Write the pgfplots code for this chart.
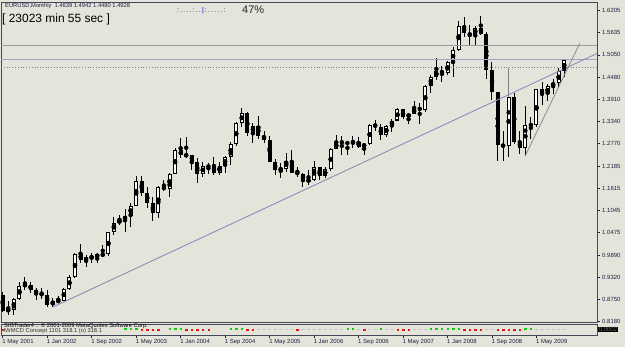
\documentclass[border=0pt]{standalone}
\usepackage{pgfplots}
\pgfplotsset{compat=1.18}
\usepackage{pgfplotstable}
\usepackage{fontspec}
\setmainfont{Liberation Sans}
\definecolor{bgc}{RGB}{228,228,218}
\definecolor{bordc}{RGB}{70,70,90}
\definecolor{lblc}{RGB}{30,30,70}
\definecolor{trendc}{RGB}{140,140,185}
\definecolor{hlinec}{RGB}{155,155,160}
\definecolor{bidc}{RGB}{160,160,200}
\definecolor{boxg}{RGB}{140,140,140}
\definecolor{indred}{RGB}{230,20,20}
\definecolor{indgreen}{RGB}{20,200,20}
\definecolor{indgray}{RGB}{195,195,205}

% bullish candles (close >= open)
\pgfplotstableread{
i O H L C
1 0.8460 0.8700 0.8350 0.8490
2 0.8490 0.8800 0.8350 0.8760
3 0.8760 0.9190 0.8740 0.9110
4 0.9110 0.9340 0.8990 0.9130
9 0.8610 0.8790 0.8555 0.8700
10 0.8700 0.8840 0.8650 0.8720
11 0.8720 0.9050 0.8720 0.9020
12 0.9020 0.9380 0.9000 0.9330
13 0.9330 0.9960 0.9300 0.9920
15 0.9780 0.9890 0.9600 0.9810
16 0.9810 0.9960 0.9700 0.9870
17 0.9870 0.9920 0.9690 0.9890
18 0.9890 1.0150 0.9860 0.9920
19 0.9920 1.0500 0.9860 1.0490
20 1.0490 1.0870 1.0400 1.0730
21 1.0730 1.0930 1.0680 1.0790
22 1.0790 1.1080 1.0500 1.0910
23 1.0910 1.1230 1.0620 1.1170
24 1.1170 1.1930 1.1150 1.1800
28 1.0990 1.1670 1.0840 1.1650
30 1.1590 1.2010 1.1400 1.1990
31 1.1990 1.2650 1.1980 1.2590
33 1.2460 1.2930 1.2390 1.2470
36 1.1970 1.2280 1.1900 1.2200
39 1.2020 1.2300 1.1950 1.2180
40 1.2180 1.2440 1.2000 1.2430
41 1.2430 1.2810 1.2220 1.2750
42 1.2750 1.3310 1.2710 1.3300
43 1.3300 1.3670 1.3200 1.3550
45 1.3040 1.3290 1.2770 1.3230
50 1.2090 1.2260 1.1870 1.2120
51 1.2120 1.2520 1.2030 1.2330
55 1.1790 1.2090 1.1710 1.1840
56 1.1840 1.2330 1.1800 1.2160
58 1.1920 1.2160 1.1870 1.2110
59 1.2110 1.2640 1.2070 1.2620
60 1.2620 1.2980 1.2620 1.2810
63 1.2770 1.2960 1.2660 1.2810
65 1.2680 1.2790 1.2480 1.2760
66 1.2760 1.3260 1.2720 1.3250
69 1.2990 1.3250 1.2930 1.3230
70 1.3230 1.3390 1.3070 1.3360
71 1.3360 1.3680 1.3340 1.3650
73 1.3450 1.3530 1.3260 1.3530
74 1.3530 1.3850 1.3520 1.3680
76 1.3640 1.4280 1.3590 1.4260
77 1.4260 1.4530 1.4070 1.4480
78 1.4480 1.4970 1.4400 1.4630
80 1.4590 1.4880 1.4520 1.4860
81 1.4860 1.5250 1.4480 1.5180
82 1.5180 1.5910 1.5150 1.5790
85 1.5550 1.5800 1.5300 1.5750
91 1.2700 1.4720 1.2420 1.3970
94 1.2660 1.3740 1.2457 1.3250
96 1.3240 1.4160 1.3180 1.4160
98 1.4030 1.4300 1.3850 1.4250
99 1.4250 1.4440 1.4050 1.4330
100 1.4330 1.4720 1.4200 1.4640
101 1.4639 1.4942 1.4480 1.4928
}\bull

% bearish candles (close < open)
\pgfplotstableread{
i O H L C
0 0.8860 0.8950 0.8440 0.8460
5 0.9130 0.9210 0.8930 0.9000
6 0.9000 0.9060 0.8750 0.8900
7 0.8900 0.9050 0.8760 0.8870
8 0.8870 0.9000 0.8560 0.8610
14 0.9920 1.0180 0.9680 0.9780
25 1.1800 1.1930 1.1420 1.1490
26 1.1490 1.1640 1.1100 1.1240
27 1.1240 1.1390 1.0760 1.0990
29 1.1650 1.1830 1.1540 1.1590
32 1.2590 1.2900 1.2390 1.2460
34 1.2470 1.2480 1.2090 1.2300
35 1.2300 1.2400 1.1760 1.1970
37 1.2200 1.2270 1.1990 1.2160
38 1.2160 1.2420 1.1960 1.2020
44 1.3550 1.3570 1.2960 1.3040
46 1.3230 1.3480 1.2880 1.2960
47 1.2960 1.3100 1.2770 1.2870
48 1.2870 1.2970 1.2300 1.2300
49 1.2300 1.2380 1.1950 1.2090
52 1.2330 1.2590 1.2000 1.2020
53 1.2020 1.2170 1.1910 1.1990
54 1.1990 1.2010 1.1640 1.1790
57 1.2160 1.2170 1.1820 1.1920
61 1.2810 1.2950 1.2460 1.2790
62 1.2790 1.2830 1.2480 1.2770
64 1.2810 1.2930 1.2640 1.2680
67 1.3250 1.3370 1.3100 1.3200
68 1.3200 1.3280 1.2870 1.2990
72 1.3650 1.3650 1.3410 1.3450
75 1.3680 1.3800 1.3260 1.3640
79 1.4630 1.4760 1.4360 1.4590
83 1.5790 1.6020 1.5510 1.5610
84 1.5610 1.5830 1.5290 1.5550
86 1.5750 1.6040 1.5570 1.5600
87 1.5600 1.5630 1.4430 1.4670
88 1.4670 1.4870 1.3880 1.4090
89 1.4090 1.4100 1.2330 1.2730
90 1.2730 1.3090 1.2330 1.2700
92 1.3970 1.4060 1.2750 1.2800
93 1.2800 1.3090 1.2510 1.2660
95 1.3250 1.3460 1.2880 1.3240
97 1.4160 1.4340 1.3750 1.4030
}\bear

\pgfplotsset{
  ebar/.style 2 args={only marks, mark=none, forget plot,
    error bars/.cd, y dir=both, y explicit, error mark=none,
    error bar style={draw=#1, solid, line width=#2}},
}

\begin{document}
\begin{tikzpicture}
\fill[bgc] (0,0) rectangle (625bp,347bp);
\useasboundingbox (0,0) rectangle (625bp,347bp);

% ---------- main price window ----------
\begin{axis}[
  at={(1bp,25bp)}, anchor=south west,
  width=596bp, height=320bp, scale only axis,
  xmin=-0.306, xmax=106.89, ymin=0.8172, ymax=1.6411,
  axis line style={draw=bordc, line width=0.8bp},
  xtick=\empty,
  ytick={0.8180,0.8750,0.9320,0.9890,1.0475,1.1045,1.1615,1.2185,1.2770,1.3340,1.3910,1.4480,1.5050,1.5635,1.6205},
  yticklabels={0.8180,0.8750,0.9320,0.9890,1.0475,1.1045,1.1615,1.2185,1.2770,1.3340,1.3910,1.4480,1.5050,1.5635,1.6205},
  ytick pos=right, yticklabel pos=right, ytick align=outside,
  major tick length=3bp,
  tick style={draw=lblc, line width=0.6bp},
  yticklabel style={font=\fontsize{6}{7}\selectfont, text=lblc, anchor=west, inner sep=0pt, xshift=2bp},
  clip=true,
]
% wicks
\addplot[ebar={black}{1bp}] table[x=i, y expr={(\thisrow{H}+\thisrow{L})/2}, y error expr={(\thisrow{H}-\thisrow{L})/2}] {\bull};
\addplot[ebar={black}{1bp}] table[x=i, y expr={(\thisrow{H}+\thisrow{L})/2}, y error expr={(\thisrow{H}-\thisrow{L})/2}] {\bear};
% bodies
\addplot[ebar={black}{4bp}] table[x=i, y expr={(\thisrow{O}+\thisrow{C})/2}, y error expr={max(0.0013,(\thisrow{O}-\thisrow{C})/2)}] {\bear};
\addplot[ebar={black}{4bp}] table[x=i, y expr={(\thisrow{O}+\thisrow{C})/2}, y error expr={max(0.0013,(\thisrow{C}-\thisrow{O})/2)}] {\bull};
\addplot[ebar={white}{2bp}] table[x=i, y expr={(\thisrow{O}+\thisrow{C})/2}, y error expr={max(0,(\thisrow{C}-\thisrow{O})/2-0.0026)}] {\bull};
% highlighted wick Dec 2008
\addplot[draw=gray, line width=1bp] coordinates {(91,1.3975) (91,1.4720)};
% horizontal lines
\addplot[draw=hlinec, line width=1bp] coordinates {(-0.306,1.5300) (106.89,1.5300)};
\addplot[draw=bidc, line width=1bp] coordinates {(-0.306,1.4928) (106.89,1.4928)};
\addplot[draw=gray, line width=0.8bp, dotted] coordinates {(-0.306,1.4718) (106.89,1.4718)};
% trendlines
\addplot[draw=trendc, line width=0.9bp] coordinates {(9,0.8555) (106.89,1.5085)};
\addplot[draw=gray!90, line width=0.8bp] coordinates {(94,1.2457) (103.8,1.5350)};
% price boxes on the scale
\node[fill=boxg, text=white!88!black, inner sep=0.6bp, anchor=west, font=\fontsize{6}{7}\selectfont, minimum height=7bp] at (axis cs:106.89,1.5300) [xshift=1.5bp] {1.5300};
\node[fill=black, text=white, inner sep=0.6bp, anchor=west, font=\fontsize{6}{7}\selectfont, minimum height=7bp] at (axis cs:106.89,1.4928) [xshift=1.5bp] {1.4928};
\node[fill=boxg, text=white!88!black, inner sep=0.6bp, anchor=west, font=\fontsize{6}{7}\selectfont, minimum height=7bp] at (axis cs:106.89,1.4718) [xshift=1.5bp] {1.4718};
\end{axis}

% ---------- indicator window ----------
\begin{axis}[
  at={(1bp,12bp)}, anchor=south west,
  width=596bp, height=11bp, scale only axis,
  xmin=-0.306, xmax=106.89, ymin=-1, ymax=1,
  axis line style={draw=bordc, line width=0.8bp},
  ytick=\empty,
  xtick={0,8,16,24,32,40,48,56,64,72,80,88,96},
  xticklabels={1 May 2001,1 Jan 2002,1 Sep 2002,1 May 2003,1 Jan 2004,1 Sep 2004,1 May 2005,1 Jan 2006,1 Sep 2006,1 May 2007,1 Jan 2008,1 Sep 2008,1 May 2009},
  xtick pos=bottom, xtick align=outside, major tick length=3bp,
  tick style={draw=lblc, line width=0.6bp},
  xticklabel style={font=\fontsize{6}{7}\selectfont, text=lblc, anchor=north west, inner sep=0pt, yshift=-1.5bp, xshift=-0.5bp},
]
\addplot[only marks, mark=-, mark size=1.6bp, indgray, mark options={line width=0.8bp}] coordinates {
(46,0)(47,0)(48,0)(49,0)(50,0)(51,0)(52,0)(54,0)(55,0)(56,0)(57,0)(58,0)(59,0)(60,0)(61,0)(64,0)(66,0)(67,0)(69,0)(70,0)(74,0)(75,0)(76,0)(87,0)(88,0)(96,0)(97,0)(98,0)(99,0)(100,0)(101,0)};
\addplot[only marks, mark=square*, mark size=0.7bp, indred] coordinates {
(0,0)(25,0)(26,0)(27,0)(28,0)(33,0)(34,0)(35,0)(36,0)(37,0)(44,0)(45,0)(53,0)(65,0)(71,0)(72,0)(73,0)(83,0)(84,0)(85,0)(86,0)(89,0)(90,0)(91,0)(92,0)(93,0)};
\addplot[only marks, mark=square*, mark size=0.7bp, indgreen] coordinates {
(22,0.2)(23,0.2)(24,0.2)(30,0.2)(31,0.2)(32,0.2)(41,0.2)(42,0.2)(43,0.2)(62,0.2)(63,0.2)(68,0.2)(77,0.2)(78,0.2)(79,0.2)(80,0.2)(81,0.2)(82,0.2)(94,0.2)(95,0.2)};
\end{axis}

% indicator texts
\node[anchor=west, inner sep=0pt, font=\fontsize{5.8}{6}\selectfont, text=black] at (4bp,20.5bp) {SIGTrader4 .. \textcopyright\ 2001-2009 MetaQuotes Software Corp.};
\node[anchor=west, inner sep=0pt, font=\fontsize{5.8}{6}\selectfont, text=black!80] at (4bp,16bp) {MrMCD Concept 1101 318.1 (o) 318.1};
\node[fill=black, text=black!60, inner sep=0.6bp, anchor=west, font=\fontsize{6}{7}\selectfont] at (598bp,17.5bp) {0.0002};

% header texts
\node[anchor=west, inner sep=0pt, font=\fontsize{5.8}{6}\selectfont, text=lblc] at (5bp,341bp) {EURUSD,Monthly\ \ 1.4639 1.4942 1.4480 1.4928};
\node[anchor=west, inner sep=0pt, font=\fontsize{12}{13}\selectfont, text=black] at (2bp,327.5bp) {[ 23023 min 55 sec ]};
\node[anchor=west, inner sep=0pt, font=\fontsize{7}{8}\selectfont, text=black!75] at (177bp,336.5bp) {:\,.\,.\,.\,.\,:\,.\,.\,{\color{blue}|}\,:\,.\,.\,.\,.\,.\,:};
\node[anchor=west, inner sep=0pt, font=\fontsize{11}{12}\selectfont, text=black!85] at (242bp,337bp) {47\%};
\end{tikzpicture}
\end{document}
